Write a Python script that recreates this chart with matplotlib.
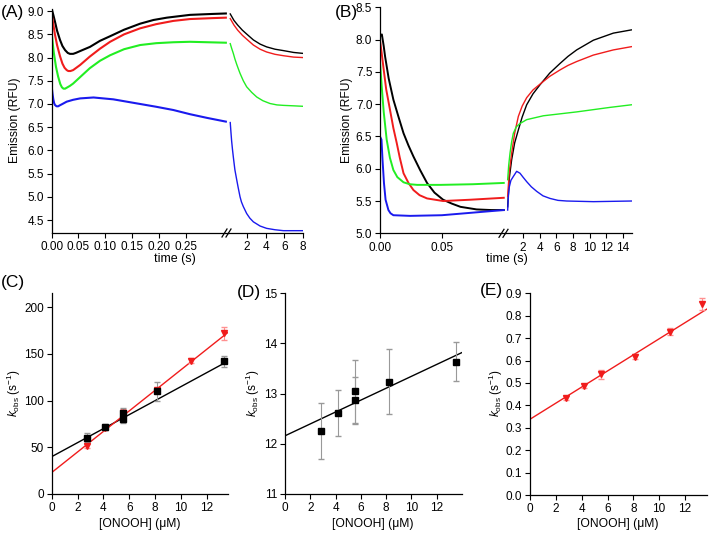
import numpy as np
import matplotlib.pyplot as plt
from matplotlib.lines import Line2D

plt.rcParams['font.family'] = ['Liberation Sans', 'DejaVu Sans']
plt.rcParams['mathtext.fontset'] = 'custom'
plt.rcParams['mathtext.rm'] = 'Liberation Sans'
plt.rcParams['mathtext.it'] = 'Liberation Sans:italic'
plt.rcParams['font.size'] = 8.5
plt.rcParams['axes.linewidth'] = 0.9
plt.rcParams['xtick.major.size'] = 3.5
plt.rcParams['ytick.major.size'] = 3.5
plt.rcParams['xtick.major.pad'] = 2.5
plt.rcParams['ytick.major.pad'] = 2

# ---- panel A: emission traces, short time (s) / long time (s) ----
a_black_t1 = [0, 0.003, 0.006, 0.01, 0.0155, 0.02, 0.025, 0.03, 0.034, 0.04, 0.045, 0.055, 0.0714, 0.09, 0.109, 0.135, 0.165, 0.19, 0.215, 0.258, 0.3, 0.325]
a_black_y1 = [9.05, 8.92, 8.78, 8.58, 8.38, 8.25, 8.16, 8.10, 8.08, 8.08, 8.10, 8.15, 8.23, 8.36, 8.46, 8.60, 8.73, 8.81, 8.86, 8.92, 8.94, 8.95]
a_red_t1 = [0, 0.003, 0.006, 0.01, 0.0155, 0.02, 0.024, 0.028, 0.031, 0.035, 0.04, 0.053, 0.071, 0.09, 0.109, 0.135, 0.165, 0.195, 0.227, 0.258, 0.3, 0.325]
a_red_y1 = [8.92, 8.72, 8.50, 8.27, 8.03, 7.87, 7.78, 7.73, 7.71, 7.71, 7.73, 7.84, 8.02, 8.19, 8.34, 8.50, 8.63, 8.72, 8.79, 8.83, 8.85, 8.86]
a_green_t1 = [0, 0.002, 0.004, 0.008, 0.012, 0.016, 0.019, 0.022, 0.025, 0.028, 0.034, 0.04, 0.055, 0.071, 0.09, 0.109, 0.135, 0.165, 0.195, 0.227, 0.258, 0.325]
a_green_y1 = [8.53, 8.30, 8.10, 7.80, 7.59, 7.43, 7.36, 7.33, 7.33, 7.35, 7.39, 7.44, 7.60, 7.77, 7.93, 8.05, 8.18, 8.27, 8.31, 8.33, 8.34, 8.32]
a_blue_t1 = [0, 0.0015, 0.003, 0.0045, 0.006, 0.009, 0.012, 0.015, 0.02, 0.028, 0.04, 0.053, 0.078, 0.115, 0.14, 0.165, 0.195, 0.227, 0.258, 0.29, 0.325]
a_blue_y1 = [7.37, 7.22, 7.10, 7.02, 6.98, 6.95, 6.95, 6.97, 7.00, 7.05, 7.09, 7.12, 7.14, 7.10, 7.05, 7.00, 6.94, 6.87, 6.78, 6.70, 6.62]

a_black_t2 = [0.2, 0.6, 1.0, 1.5, 2, 2.68, 3.4, 4.1, 5, 5.9, 7, 8]
a_black_y2 = [8.94, 8.80, 8.70, 8.59, 8.50, 8.38, 8.29, 8.23, 8.18, 8.15, 8.11, 8.09]
a_red_t2 = [0.2, 0.6, 1.0, 1.5, 2, 2.68, 3.4, 4.1, 5, 5.9, 7, 8]
a_red_y2 = [8.84, 8.70, 8.59, 8.48, 8.39, 8.27, 8.18, 8.12, 8.07, 8.04, 8.01, 8.00]
a_green_t2 = [0.2, 0.35, 0.53, 0.7, 0.9, 1.1, 1.25, 1.6, 1.96, 2.5, 3.04, 3.7, 4.46, 5.2, 5.9, 7, 8]
a_green_y2 = [8.30, 8.20, 8.09, 7.97, 7.85, 7.74, 7.66, 7.50, 7.37, 7.25, 7.15, 7.07, 7.01, 6.98, 6.97, 6.96, 6.95]
a_blue_t2 = [0.2, 0.28, 0.35, 0.44, 0.53, 0.62, 0.7, 0.8, 0.9, 1.05, 1.25, 1.4, 1.6, 1.96, 2.3, 2.68, 3.4, 4.1, 5, 5.9, 7, 8]
a_blue_y2 = [6.60, 6.38, 6.20, 6.02, 5.86, 5.71, 5.58, 5.47, 5.36, 5.20, 5.00, 4.89, 4.79, 4.64, 4.54, 4.46, 4.37, 4.32, 4.29, 4.27, 4.27, 4.27]

# ---- panel B ----
b_black_t1 = [0, 0.0015, 0.003, 0.0041, 0.007, 0.0108, 0.015, 0.019, 0.023, 0.027, 0.0324, 0.038, 0.044, 0.051, 0.058, 0.065, 0.078, 0.09, 0.1]
b_black_y1 = [8.05, 8.08, 7.90, 7.74, 7.40, 7.07, 6.80, 6.55, 6.36, 6.19, 5.98, 5.78, 5.63, 5.52, 5.46, 5.41, 5.37, 5.36, 5.36]
b_red_t1 = [0, 0.0013, 0.0027, 0.005, 0.0081, 0.0108, 0.0135, 0.016, 0.019, 0.023, 0.027, 0.032, 0.038, 0.051, 0.073, 0.1]
b_red_y1 = [7.99, 7.80, 7.58, 7.23, 6.91, 6.63, 6.40, 6.17, 5.93, 5.78, 5.67, 5.59, 5.54, 5.50, 5.52, 5.55]
b_green_t1 = [0, 0.0014, 0.003, 0.0054, 0.008, 0.0108, 0.014, 0.019, 0.024, 0.03, 0.049, 0.075, 0.1]
b_green_y1 = [7.66, 7.27, 6.88, 6.45, 6.17, 5.98, 5.87, 5.79, 5.76, 5.75, 5.75, 5.76, 5.78]
b_blue_t1 = [0, 0.0012, 0.002, 0.0032, 0.0045, 0.0068, 0.0085, 0.0108, 0.0243, 0.05, 0.075, 0.1]
b_blue_y1 = [6.50, 6.45, 6.15, 5.78, 5.52, 5.36, 5.31, 5.28, 5.27, 5.28, 5.32, 5.36]

b_black_t2 = [0.16, 0.35, 0.64, 1.0, 1.44, 1.9, 2.44, 3.2, 4.04, 5.2, 6.44, 7.4, 8.44, 10.44, 12.84, 15]
b_black_y2 = [5.41, 5.85, 6.14, 6.40, 6.60, 6.80, 6.99, 7.16, 7.30, 7.48, 7.63, 7.74, 7.84, 7.99, 8.10, 8.15]
b_red_t2 = [0.16, 0.35, 0.64, 1.0, 1.44, 1.9, 2.44, 3.2, 4.04, 5.2, 6.44, 7.4, 8.44, 10.44, 12.84, 15]
b_red_y2 = [5.57, 5.95, 6.24, 6.55, 6.81, 6.97, 7.10, 7.22, 7.31, 7.43, 7.53, 7.60, 7.66, 7.76, 7.84, 7.89]
b_green_t2 = [0.16, 0.28, 0.44, 0.64, 0.84, 1.2, 1.64, 2.44, 4.44, 8.44, 12.44, 15]
b_green_y2 = [5.83, 6.05, 6.24, 6.42, 6.55, 6.65, 6.70, 6.76, 6.82, 6.88, 6.95, 6.99]
b_blue_t2 = [0.16, 0.25, 0.36, 0.55, 0.84, 1.24, 1.64, 2.0, 2.44, 3.0, 3.64, 4.4, 5.24, 6.2, 7.24, 10.44, 15]
b_blue_y2 = [5.36, 5.58, 5.72, 5.82, 5.88, 5.96, 5.93, 5.87, 5.80, 5.72, 5.65, 5.58, 5.54, 5.51, 5.50, 5.49, 5.50]

# ---- panels C-E: kobs vs [ONOOH] ----
c_sq_x = [2.77, 4.15, 5.5, 5.5, 8.15, 13.35]
c_sq_y = [60.5, 71.5, 80, 87, 110, 142]
c_sq_err = [5, 3, 4, 5, 10, 6]
c_tri_x = [2.77, 4.15, 5.5, 8.15, 10.8, 13.35]
c_tri_y = [51.5, 71, 87, 111, 143, 172]
c_tri_err = [2.5, 2.5, 4, 3, 3, 6.5]
c_sq_fit = (40, 7.5)      # intercept, slope
c_tri_fit = (23, 11.0)

d_sq_x = [2.85, 4.19, 5.53, 5.53, 8.23, 13.54]
d_sq_y = [12.26, 12.61, 12.87, 13.05, 13.24, 13.64]
d_sq_err = [0.56, 0.46, 0.47, 0.63, 0.645, 0.38]
d_sq_fit = (12.16, 0.1185)

e_tri_x = [2.77, 4.15, 5.5, 8.15, 10.8, 13.35]
e_tri_y = [0.434, 0.486, 0.539, 0.617, 0.729, 0.852]
e_tri_err = [0.008, 0.008, 0.02, 0.012, 0.015, 0.025]
e_tri_fit = (0.338, 0.0359)

BLACK, RED, GREEN, BLUE = '#000000', '#f01c1c', '#22ee22', '#1a1aee'
W, H = 709, 534

fig = plt.figure(figsize=(W / 100, H / 100), dpi=100)


def px_axes(x0, x1, y0, y1):
    return fig.add_axes([x0 / W, 1 - y1 / H, (x1 - x0) / W, (y1 - y0) / H])


def clean(ax, left=True):
    ax.spines['top'].set_visible(False)
    ax.spines['right'].set_visible(False)
    if not left:
        ax.spines['left'].set_visible(False)
        ax.tick_params(axis='y', left=False, labelleft=False)
    ax.patch.set_alpha(0)


def break_marks(x, y):
    for dx in (-4, 0):
        fig.add_artist(Line2D([(x + dx - 2) / W, (x + dx + 3) / W],
                              [1 - (y + 4) / H, 1 - (y - 4) / H],
                              transform=fig.transFigure, color='k', lw=0.9))


# panel A
axA1 = px_axes(51.7, 228, 9.3, 233)
axA2 = px_axes(228, 303.3, 9.3, 233)
for t, y, c in [(a_black_t1, a_black_y1, BLACK), (a_red_t1, a_red_y1, RED),
                (a_green_t1, a_green_y1, GREEN), (a_blue_t1, a_blue_y1, BLUE)]:
    axA1.plot(t, y, color=c, lw=1.5)
for t, y, c in [(a_black_t2, a_black_y2, BLACK), (a_red_t2, a_red_y2, RED),
                (a_green_t2, a_green_y2, GREEN), (a_blue_t2, a_blue_y2, BLUE)]:
    axA2.plot(t, y, color=c, lw=1.0)
axA1.set_xlim(0, 0.329)
axA2.set_xlim(-0.04, 8.03)
for ax in (axA1, axA2):
    ax.set_ylim(4.22, 9.04)
axA1.set_xticks([0, 0.05, 0.10, 0.15, 0.20, 0.25])
axA1.set_xticklabels(['0.00', '0.05', '0.10', '0.15', '0.20', '0.25'])
axA1.set_yticks(np.arange(4.5, 9.01, 0.5))
axA1.set_yticklabels(['%.1f' % v for v in np.arange(4.5, 9.01, 0.5)])
axA2.set_xticks([2, 4, 6, 8])
clean(axA1)
clean(axA2, left=False)
break_marks(228, 233)

# panel B
axB1 = px_axes(380, 505, 7.3, 233.3)
axB2 = px_axes(505, 632, 7.3, 233.3)
for t, y, c in [(b_black_t1, b_black_y1, BLACK), (b_red_t1, b_red_y1, RED),
                (b_green_t1, b_green_y1, GREEN), (b_blue_t1, b_blue_y1, BLUE)]:
    axB1.plot(t, y, color=c, lw=1.4)
for t, y, c in [(b_black_t2, b_black_y2, BLACK), (b_red_t2, b_red_y2, RED),
                (b_green_t2, b_green_y2, GREEN), (b_blue_t2, b_blue_y2, BLUE)]:
    axB2.plot(t, y, color=c, lw=1.0)
axB1.set_xlim(0, 0.101)
axB2.set_xlim(-0.16, 15.08)
for ax in (axB1, axB2):
    ax.set_ylim(5.0, 8.5)
axB1.set_xticks([0, 0.05])
axB1.set_xticklabels(['0.00', '0.05'])
axB1.set_yticks(np.arange(5.0, 8.51, 0.5))
axB1.set_yticklabels(['%.1f' % v for v in np.arange(5.0, 8.51, 0.5)])
axB2.set_xticks(range(2, 15, 2))
clean(axB1)
clean(axB2, left=False)
break_marks(505, 233.3)

# panels C, D, E
axC = px_axes(51.7, 228.3, 293.3, 494)
axD = px_axes(285, 461.7, 293.3, 494)
axE = px_axes(530, 706.7, 293.3, 495)

xs = np.array([0, 13.7])
axC.plot(xs, c_sq_fit[0] + c_sq_fit[1] * xs, color=BLACK, lw=1.0)
axC.plot(xs, c_tri_fit[0] + c_tri_fit[1] * xs, color=RED, lw=1.0)
axC.errorbar(c_tri_x, c_tri_y, yerr=c_tri_err, fmt='v', color=RED, ms=5,
             ecolor='#ff9090', elinewidth=0.8, capsize=2)
axC.errorbar(c_sq_x, c_sq_y, yerr=c_sq_err, fmt='s', color=BLACK, ms=4.5,
             ecolor='#999999', elinewidth=0.8, capsize=2)
axC.set_xlim(0, 13.67)
axC.set_ylim(0, 215)
axC.set_yticks([0, 50, 100, 150, 200])

xd = np.array([0, 14])
axD.plot(xd, d_sq_fit[0] + d_sq_fit[1] * xd, color=BLACK, lw=1.0)
axD.errorbar(d_sq_x, d_sq_y, yerr=d_sq_err, fmt='s', color=BLACK, ms=4.5,
             ecolor='#999999', elinewidth=0.8, capsize=2)
axD.set_xlim(0, 13.98)
axD.set_ylim(11, 15)
axD.set_yticks([11, 12, 13, 14, 15])

axE.plot(xs, e_tri_fit[0] + e_tri_fit[1] * xs, color=RED, lw=1.0)
axE.errorbar(e_tri_x, e_tri_y, yerr=e_tri_err, fmt='v', color=RED, ms=5,
             ecolor='#ff9090', elinewidth=0.8, capsize=2)
axE.set_xlim(0, 13.68)
axE.set_ylim(0, 0.9)
axE.set_yticks(np.arange(0, 0.91, 0.1))
axE.set_yticklabels(['%.1f' % v for v in np.arange(0, 0.91, 0.1)])

for ax in (axC, axD, axE):
    ax.set_xticks(range(0, 13, 2))
    clean(ax)


def ftext(x, y, s, **kw):
    fig.text(x / W, 1 - y / H, s, ha='center', va='center', **kw)


ftext(12.5, 12, '(A)', fontsize=12.5)
ftext(346, 12, '(B)', fontsize=12.5)
ftext(12.5, 283, '(C)', fontsize=12.5)
ftext(249, 292, '(D)', fontsize=12.5)
ftext(491, 290, '(E)', fontsize=12.5)

ftext(15, 120, 'Emission (RFU)', fontsize=8.7, rotation=90)
ftext(347, 120, 'Emission (RFU)', fontsize=8.7, rotation=90)
ftext(175, 259, 'time (s)', fontsize=9)
ftext(507, 259, 'time (s)', fontsize=9)

klab = r'$k_{\rm obs}$ (s$^{-1}$)'
ftext(14, 393, klab, fontsize=8.5, rotation=90)
ftext(253, 393, klab, fontsize=8.5, rotation=90)
ftext(496, 393, klab, fontsize=8.5, rotation=90)
for xc in (140, 373, 618):
    ftext(xc, 524, '[ONOOH] (\u03bcM)', fontsize=8.7)

fig.savefig('out.png', dpi=100)
